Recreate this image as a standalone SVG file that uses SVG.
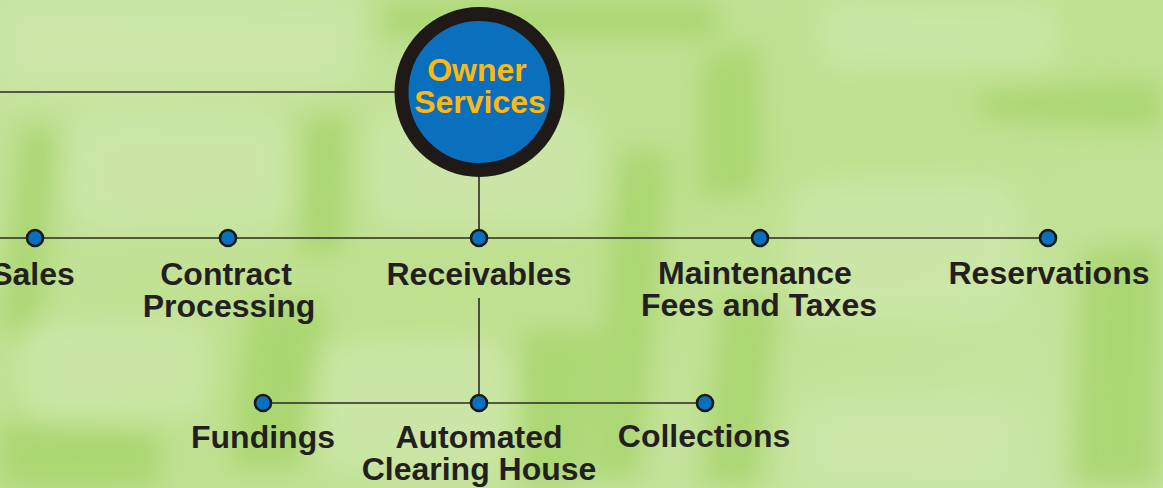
<svg xmlns="http://www.w3.org/2000/svg" width="1163" height="488" viewBox="0 0 1163 488">
<defs>
<filter id="blur" x="-20%" y="-20%" width="140%" height="140%"><feGaussianBlur stdDeviation="14"/></filter>
<linearGradient id="bg" x1="0" y1="0" x2="1" y2="1">
<stop offset="0" stop-color="#C6E39F"/>
<stop offset="0.5" stop-color="#BFE08F"/>
<stop offset="1" stop-color="#C9E5A6"/>
</linearGradient>
</defs>
<style>
.ln{stroke:#2a2a2a;stroke-width:1.6;fill:none}
.dot{fill:#0A70BE;stroke:#1a1a1a;stroke-width:2.6}
.lbl{font-family:"Liberation Sans",Arial,sans-serif;font-weight:bold;font-size:32px;fill:#231F20;text-anchor:middle}
.hub{font-family:"Liberation Sans",Arial,sans-serif;font-weight:bold;font-size:32px;fill:#FDB913;text-anchor:middle}
.gap{fill:#A6D46A}
.key{fill:#CFE8AD}
</style>
<g id="background">
<rect width="1163" height="488" fill="url(#bg)"/>
<g filter="url(#blur)" opacity="0.8">
<path class="gap" d="M380 0 H720 V40 H380 Z"/>
<path class="gap" d="M20 120 L60 130 L40 330 L0 340 Z"/>
<path class="gap" d="M300 120 L350 110 L345 250 L300 260 Z"/>
<path class="gap" d="M620 150 L670 150 L640 480 L590 480 Z"/>
<path class="gap" d="M1080 250 L1163 240 V488 H1070 Z"/>
<path class="gap" d="M700 60 L760 40 L760 190 L700 200 Z"/>
<path class="gap" d="M250 300 L330 300 L300 470 L230 470 Z"/>
<path class="gap" d="M520 330 L600 330 L580 488 L520 488 Z"/>
<path class="gap" d="M0 420 L160 430 L160 488 H0 Z"/>
<path class="gap" d="M720 300 L780 300 L760 488 L700 488 Z"/>
<path class="gap" d="M980 90 L1163 80 V130 L980 120 Z"/>
</g>
<g filter="url(#blur)" opacity="0.7">
<rect class="key" x="0" y="0" width="360" height="90" rx="20"/>
<rect class="key" x="70" y="110" width="220" height="120" rx="30"/>
<rect class="key" x="370" y="110" width="230" height="120" rx="30"/>
<rect class="key" x="790" y="180" width="230" height="140" rx="30"/>
<rect class="key" x="820" y="0" width="240" height="70" rx="20"/>
<rect class="key" x="320" y="340" width="190" height="130" rx="30"/>
<rect class="key" x="20" y="320" width="190" height="100" rx="30"/>
<rect class="key" x="800" y="400" width="220" height="88" rx="30"/>
</g>
</g>
<g id="connectors">
<line class="ln" x1="0" y1="92" x2="400" y2="92"/>
<line class="ln" x1="479" y1="170" x2="479" y2="238"/>
<line class="ln" x1="0" y1="238" x2="1048" y2="238"/>
<line class="ln" x1="479" y1="298" x2="479" y2="403"/>
<line class="ln" x1="263" y1="403" x2="705" y2="403"/>
</g>
<g id="owner-services">
<circle cx="479.5" cy="92" r="78" fill="#0A70BE" stroke="#1F1A17" stroke-width="14"/>
<text class="hub" x="477" y="81">Owner</text>
<text class="hub" x="480" y="113">Services</text>
</g>
<g id="sales">
<circle class="dot" cx="35" cy="238" r="8"/>
<text class="lbl" x="33" y="285">Sales</text>
</g>
<g id="contract-processing">
<circle class="dot" cx="228" cy="238" r="8"/>
<text class="lbl" x="226" y="285">Contract</text>
<text class="lbl" x="229" y="317">Processing</text>
</g>
<g id="receivables">
<circle class="dot" cx="479" cy="238" r="8"/>
<text class="lbl" x="479" y="285">Receivables</text>
</g>
<g id="maintenance">
<circle class="dot" cx="760" cy="238" r="8"/>
<text class="lbl" x="755" y="284">Maintenance</text>
<text class="lbl" x="759" y="316">Fees and Taxes</text>
</g>
<g id="reservations">
<circle class="dot" cx="1048" cy="238" r="8"/>
<text class="lbl" x="1049" y="284">Reservations</text>
</g>
<g id="fundings">
<circle class="dot" cx="263" cy="403" r="8"/>
<text class="lbl" x="263" y="448">Fundings</text>
</g>
<g id="ach">
<circle class="dot" cx="479" cy="403" r="8"/>
<text class="lbl" x="479" y="448">Automated</text>
<text class="lbl" x="479" y="480">Clearing House</text>
</g>
<g id="collections">
<circle class="dot" cx="705" cy="403" r="8"/>
<text class="lbl" x="704" y="447">Collections</text>
</g>
</svg>
